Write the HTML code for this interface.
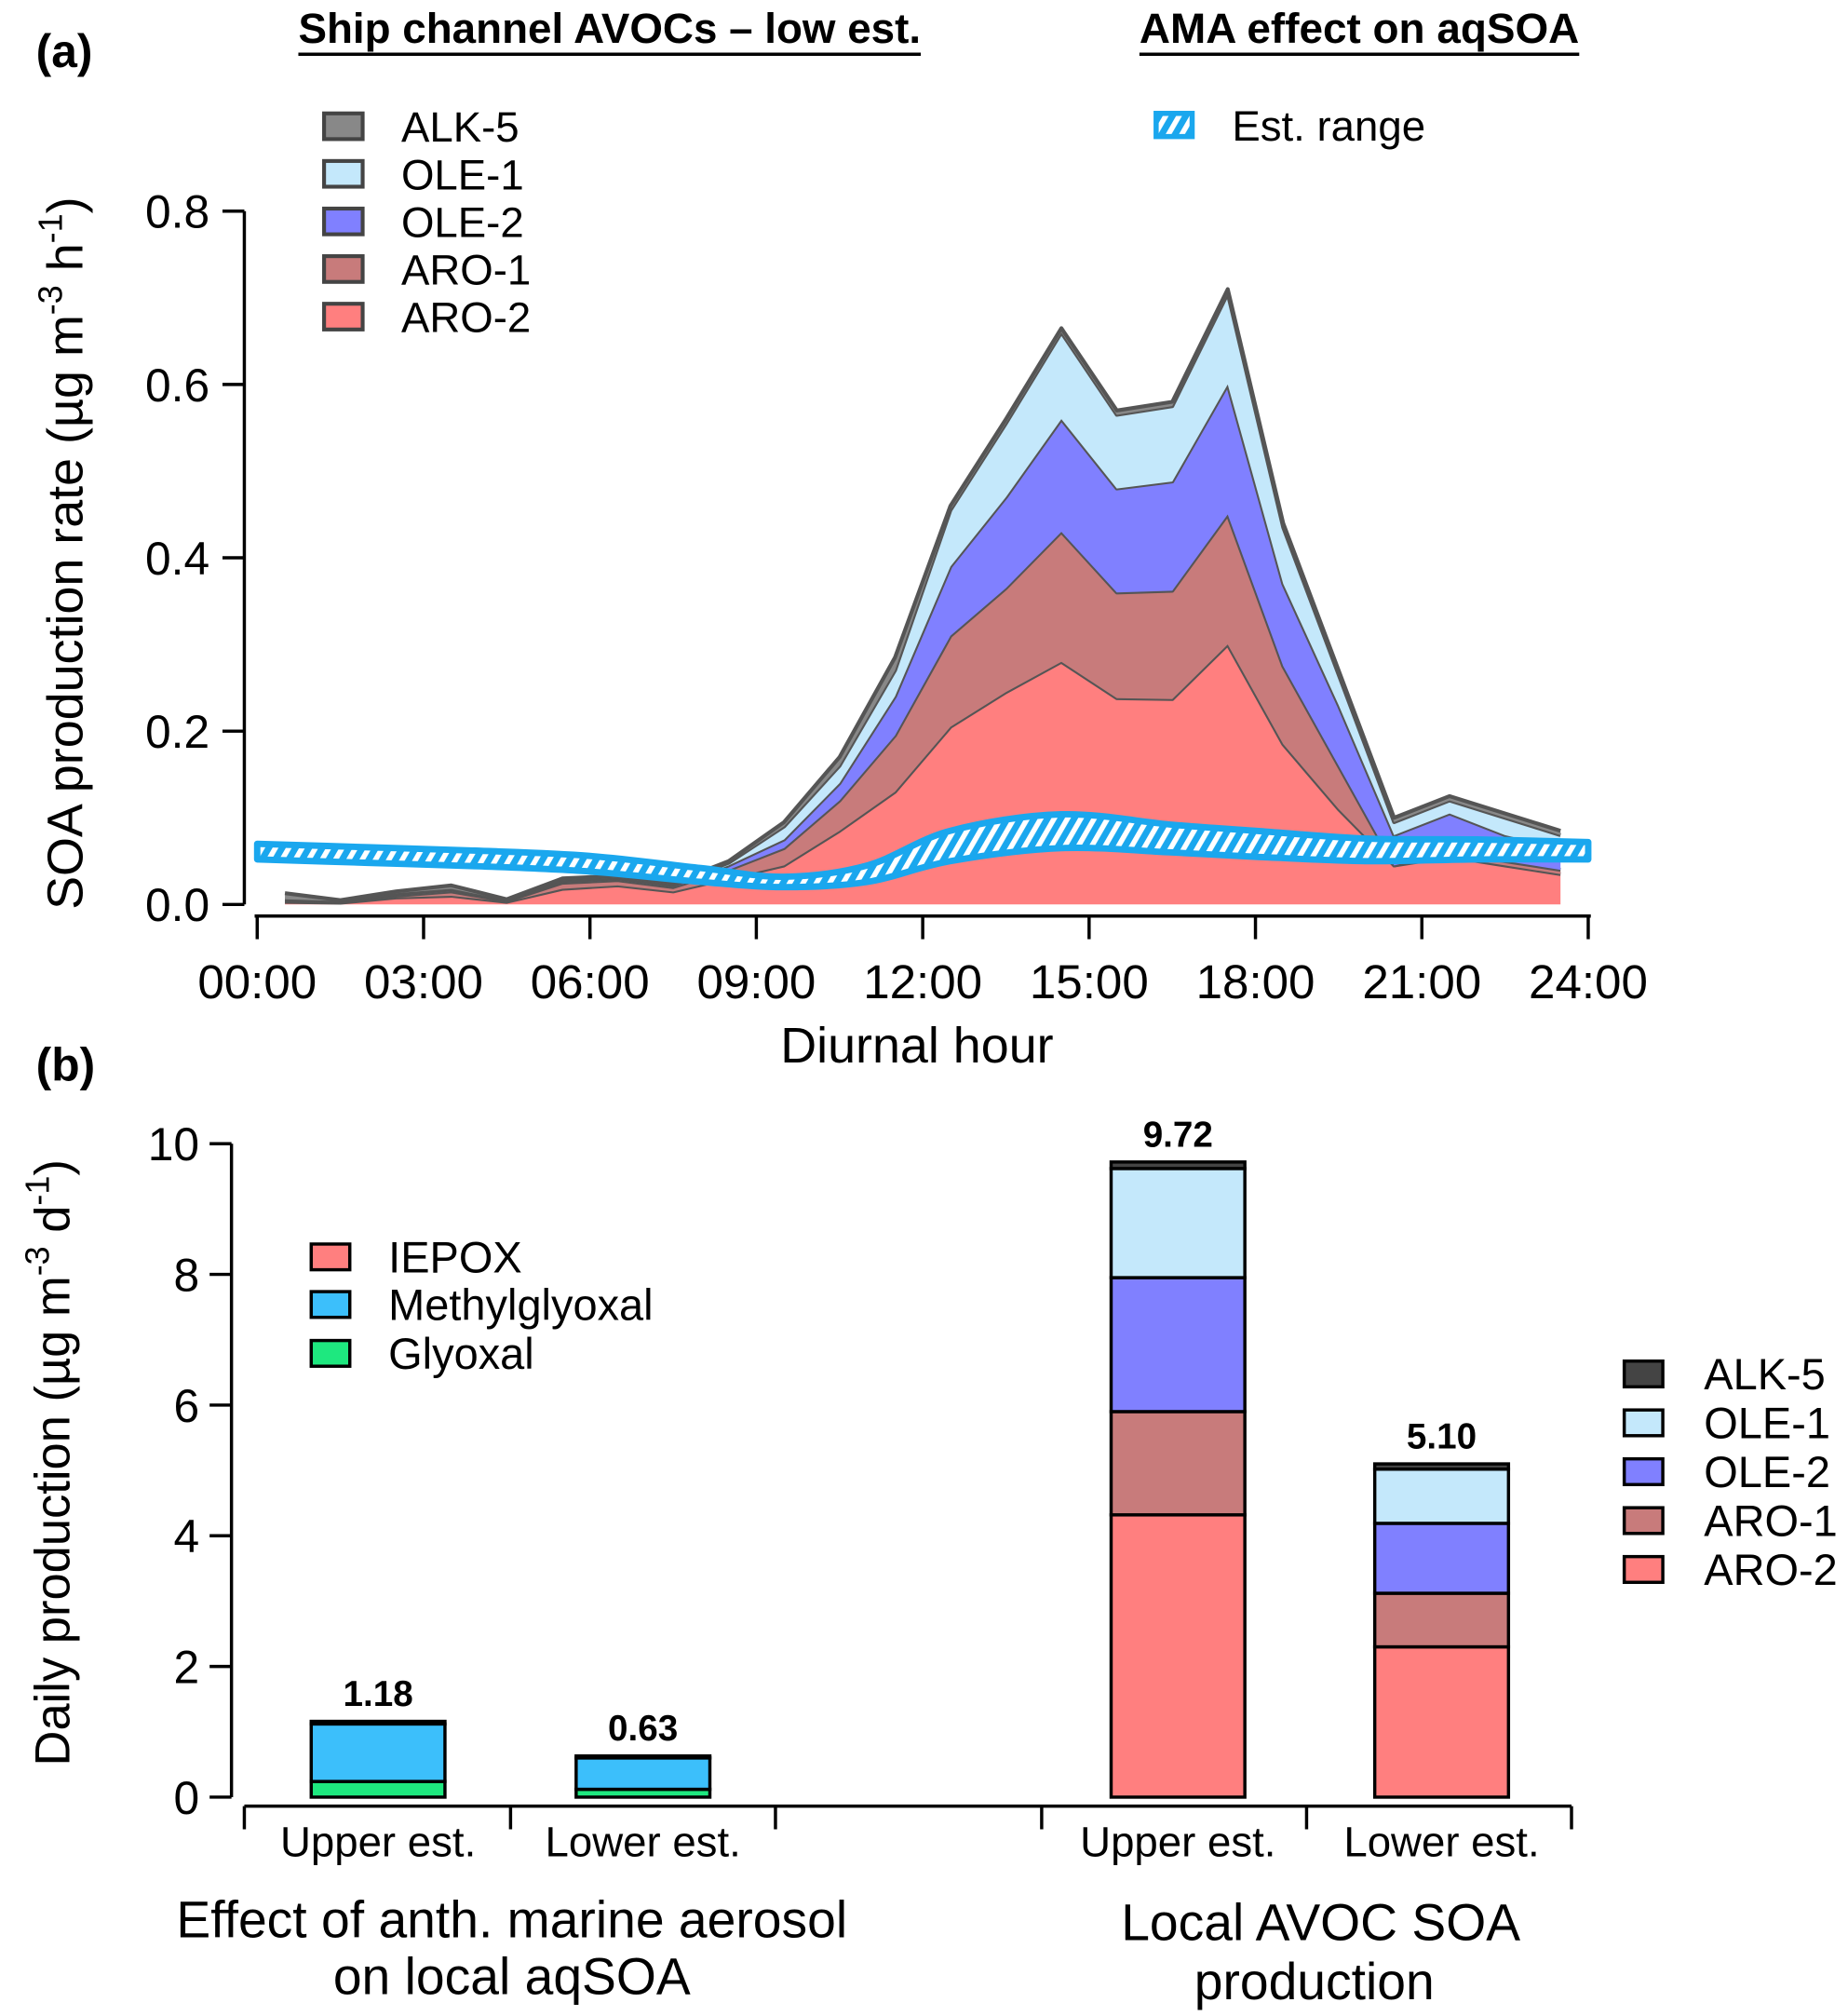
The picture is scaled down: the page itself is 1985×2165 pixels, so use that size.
<!DOCTYPE html>
<html><head><meta charset="utf-8"><style>
html,body{margin:0;padding:0;background:#fff}
svg{display:block}
text{font-family:"Liberation Sans",Arial,sans-serif;fill:#000}
</style></head><body>
<svg id="fig" width="1985" height="2165" viewBox="0 0 1437 1567" xmlns="http://www.w3.org/2000/svg">
<defs>
<pattern id="hatch" patternUnits="userSpaceOnUse" width="9" height="9" patternTransform="rotate(30)">
<rect width="9" height="9" fill="#1aa7ee"/><rect x="0" y="0" width="4" height="9" fill="#fff"/>
</pattern>
</defs>
<g id="pa"></g>
<g id="pb"></g>
</svg>
<script>
// ---------- Panel (a) data ----------
const hours = [0.5,1.5,2.5,3.5,4.5,5.5,6.5,7.5,8.5,9.5,10.5,11.5,12.5,13.5,14.5,15.5,16.5,17.5,18.5,19.5,20.5,21.5,22.5,23.5];
const aro2 = [0.003,0.002,0.008,0.010,0.003,0.018,0.022,0.015,0.030,0.045,0.085,0.130,0.205,0.245,0.280,0.238,0.237,0.300,0.185,0.110,0.045,0.055,0.045,0.035];
const aro1 = [0.001,0.001,0.002,0.005,0.001,0.007,0.006,0.005,0.010,0.020,0.035,0.065,0.105,0.120,0.150,0.122,0.125,0.150,0.090,0.050,0.000,0.005,0.005,0.005];
const ole2 = [0.001,0.001,0.002,0.002,0.001,0.002,0.002,0.002,0.005,0.010,0.020,0.045,0.080,0.105,0.130,0.120,0.126,0.150,0.095,0.070,0.035,0.045,0.030,0.025];
const ole1 = [0.001,0.000,0.001,0.001,0.000,0.001,0.001,0.001,0.003,0.015,0.020,0.030,0.065,0.085,0.100,0.085,0.087,0.105,0.065,0.035,0.015,0.015,0.020,0.015];
const alk5 = [0.007,0.001,0.002,0.004,0.001,0.002,0.002,0.002,0.002,0.005,0.010,0.015,0.005,0.005,0.005,0.005,0.005,0.005,0.005,0.005,0.005,0.005,0.005,0.005];
const bandHours = [0,2,4,6,8,9.5,11,12.5,14.5,16.5,18,20,22,24];
const bandUpper = [0.070,0.066,0.062,0.056,0.042,0.032,0.045,0.085,0.104,0.092,0.085,0.076,0.075,0.072];
const bandLower = [0.052,0.048,0.044,0.038,0.026,0.020,0.026,0.050,0.065,0.060,0.055,0.050,0.052,0.052];
const yTicksA = [0,0.2,0.4,0.6,0.8];
const yTickLabelsA = ["0.0","0.2","0.4","0.6","0.8"];
const xTicksA = [0,3,6,9,12,15,18,21,24];
const xTickLabelsA = ["00:00","03:00","06:00","09:00","12:00","15:00","18:00","21:00","24:00"];
// ---------- Panel (b) data ----------
const barCats = ["Upper est.","Lower est.","Upper est.","Lower est."];
const bGlyoxal = [0.24,0.12,0,0];
const bMethyl = [0.88,0.48,0,0];
const bIepox = [0.04,0.03,0,0];
const bAro2 = [0,0,4.32,2.30];
const bAro1 = [0,0,1.58,0.82];
const bOle2 = [0,0,2.05,1.07];
const bOle1 = [0,0,1.67,0.83];
const bAlk = [0,0,0.10,0.08];
const barTotals = ["1.18","0.63","9.72","5.10"];
const yTicksB = [0,2,4,6,8,10];

const NS="http://www.w3.org/2000/svg";
function mk(parent,tag,attrs,txt){const e=document.createElementNS(NS,tag);for(const k in attrs)e.setAttribute(k,attrs[k]);if(txt!==undefined)e.textContent=txt;parent.appendChild(e);return e;}

const xA=h=>200+h*(1035/24);
const yA=v=>703-v*(539/0.8);
const pa=document.getElementById('pa');

const layers=[[aro2,'#ff7f7f','aro-2'],[aro1,'#c87b7b','aro-1'],[ole2,'#8080ff','ole-2'],[ole1,'#c4e8fb','ole-1'],[alk5,'#888888','alk-5']];
let base=hours.map(()=>0);
layers.forEach(([arr,col,nm])=>{
  const top=base.map((b,i)=>b+arr[i]);
  let d='M'+hours.map((h,i)=>xA(h)+','+yA(top[i])).join('L');
  for(let i=hours.length-1;i>=0;i--)d+='L'+xA(hours[i])+','+yA(base[i]);
  d+='Z';
  const p=mk(pa,'path',{d:d,fill:col,stroke:'none'});
  
  
  const l=mk(pa,'path',{d:'M'+hours.map((h,i)=>xA(h)+','+yA(top[i])).join('L'),fill:'none',stroke:'#555',"stroke-width":3,"stroke-linejoin":"round"});
  
  
  base=top;
});

function smooth(xs,ys){
  const pts=xs.map((x,i)=>[xA(x),yA(ys[i])]);
  let d='M'+pts[0][0]+','+pts[0][1];
  for(let i=0;i<pts.length-1;i++){
    const p0=pts[Math.max(0,i-1)],p1=pts[i],p2=pts[i+1],p3=pts[Math.min(pts.length-1,i+2)];
    const c1=[p1[0]+(p2[0]-p0[0])/6,p1[1]+(p2[1]-p0[1])/6];
    const c2=[p2[0]-(p3[0]-p1[0])/6,p2[1]-(p3[1]-p1[1])/6];
    d+='C'+c1+' '+c2+' '+p2;
  }
  return d;
}
const up=smooth(bandHours,bandUpper);
const lowRev=smooth(bandHours.slice().reverse(),bandLower.slice().reverse());
const band=mk(pa,'path',{d:up+'L'+lowRev.slice(1)+'Z',fill:'url(#hatch)',stroke:'#1aa7ee',"stroke-width":5,"stroke-linejoin":"round"});



mk(pa,'line',{x1:190,y1:703,x2:190,y2:164,stroke:'#000',"stroke-width":2.5});
mk(pa,'line',{x1:198,y1:712,x2:1237,y2:712,stroke:'#000',"stroke-width":2.5});
yTicksA.forEach((v,i)=>{
  mk(pa,'line',{x1:173,y1:yA(v),x2:190,y2:yA(v),stroke:'#000',"stroke-width":2.5});
  const t=mk(pa,'text',{x:163,y:yA(v)+13,"text-anchor":"end","font-size":36},yTickLabelsA[i]);
  
  
});
xTicksA.forEach((h,i)=>{
  mk(pa,'line',{x1:xA(h),y1:712,x2:xA(h),y2:730,stroke:'#000',"stroke-width":2.5});
  const t=mk(pa,'text',{x:xA(h),y:776,"text-anchor":"middle","font-size":37},xTickLabelsA[i]);
  
  
});

const pb=document.getElementById('pb');
const yB=v=>1397-v*50.8;
const centers=[294,500,916,1121];
const bw=104;
mk(pb,'line',{x1:180,y1:1397,x2:180,y2:889,stroke:'#000',"stroke-width":2.5});
mk(pb,'line',{x1:190,y1:1404,x2:1222,y2:1404,stroke:'#000',"stroke-width":2.5});
yTicksB.forEach(v=>{
  mk(pb,'line',{x1:163,y1:yB(v),x2:180,y2:yB(v),stroke:'#000',"stroke-width":2.5});
  const t=mk(pb,'text',{x:155,y:yB(v)+13,"text-anchor":"end","font-size":36},String(v));
  
  
});
[190,397,603,810,1016,1222].forEach(x=>mk(pb,'line',{x1:x,y1:1404,x2:x,y2:1422,stroke:'#000',"stroke-width":2.5}));
const segs=[[bGlyoxal,'#1ee87f','glyoxal'],[bMethyl,'#3cbffb','methylglyoxal'],[bIepox,'#ff7f7f','iepox'],[bAro2,'#ff7f7f','aro-2'],[bAro1,'#c87b7b','aro-1'],[bOle2,'#8080ff','ole-2'],[bOle1,'#c4e8fb','ole-1'],[bAlk,'#444','alk-5']];
centers.forEach((cx,i)=>{
  let b=0;
  segs.forEach(([arr,col,nm])=>{
    const v=arr[i]; if(!v)return;
    const r=mk(pb,'rect',{x:cx-bw/2,y:yB(b+v),width:bw,height:yB(b)-yB(b+v),fill:col,stroke:'#000',"stroke-width":2.5});
    
    
    b+=v;
  });
  const t=mk(pb,'text',{x:cx,y:yB(b)-12,"text-anchor":"middle","font-size":28,"font-weight":"bold"},barTotals[i]);
  
  
  const c=mk(pb,'text',{x:cx,y:1443,"text-anchor":"middle","font-size":33},barCats[i]);
  
  
});
</script>
<svg style="position:absolute;left:0;top:0" width="1985" height="2165" viewBox="0 0 1437 1567" xmlns="http://www.w3.org/2000/svg">
<g font-family="Liberation Sans, Arial, sans-serif">
<text x="28" y="52" font-size="36" font-weight="bold">(a)</text>
<text x="28" y="840" font-size="36" font-weight="bold">(b)</text>
<text x="232" y="33" font-size="33" font-weight="bold" textLength="484" lengthAdjust="spacingAndGlyphs">Ship channel AVOCs – low est.</text>
<line x1="232" y1="42" x2="716" y2="42" stroke="#000" stroke-width="2.5"/>
<text x="886" y="33" font-size="33" font-weight="bold" textLength="342" lengthAdjust="spacingAndGlyphs">AMA effect on aqSOA</text>
<line x1="886" y1="42" x2="1228" y2="42" stroke="#000" stroke-width="2.5"/>
<g font-size="33">
<rect x="252" y="88" width="30" height="20" fill="#888" stroke="#444" stroke-width="3"/><text x="312" y="110">ALK-5</text>
<rect x="252" y="125" width="30" height="20" fill="#c4e8fb" stroke="#444" stroke-width="3"/><text x="312" y="147">OLE-1</text>
<rect x="252" y="162" width="30" height="20" fill="#8080ff" stroke="#444" stroke-width="3"/><text x="312" y="184">OLE-2</text>
<rect x="252" y="199" width="30" height="20" fill="#c87b7b" stroke="#444" stroke-width="3"/><text x="312" y="221">ARO-1</text>
<rect x="252" y="236" width="30" height="20" fill="#ff7f7f" stroke="#444" stroke-width="3"/><text x="312" y="258">ARO-2</text>
<rect x="899" y="88" width="28" height="18" fill="url(#hatch)" stroke="#1aa7ee" stroke-width="4"/><text x="958" y="109">Est. range</text>
</g>
<text transform="translate(64,430) rotate(-90)" text-anchor="middle" font-size="39">SOA production rate (µg m<tspan dy="-16" font-size="26">-3</tspan><tspan dy="16"> h</tspan><tspan dy="-16" font-size="26">-1</tspan><tspan dy="16">)</tspan></text>
<text x="713" y="826" text-anchor="middle" font-size="39">Diurnal hour</text>
<text transform="translate(54,1137) rotate(-90)" text-anchor="middle" font-size="38">Daily production (µg m<tspan dy="-16" font-size="26">-3</tspan><tspan dy="16"> d</tspan><tspan dy="-16" font-size="26">-1</tspan><tspan dy="16">)</tspan></text>
<g font-size="34">
<rect x="242" y="967" width="30" height="20" fill="#ff7f7f" stroke="#000" stroke-width="2.5"/><text x="302" y="989">IEPOX</text>
<rect x="242" y="1004" width="30" height="20" fill="#3cbffb" stroke="#000" stroke-width="2.5"/><text x="302" y="1026">Methylglyoxal</text>
<rect x="242" y="1042" width="30" height="20" fill="#1ee87f" stroke="#000" stroke-width="2.5"/><text x="302" y="1064">Glyoxal</text>
</g>
<g font-size="34">
<rect x="1263" y="1058" width="30" height="20" fill="#444" stroke="#000" stroke-width="2.5"/><text x="1325" y="1080">ALK-5</text>
<rect x="1263" y="1096" width="30" height="20" fill="#c4e8fb" stroke="#000" stroke-width="2.5"/><text x="1325" y="1118">OLE-1</text>
<rect x="1263" y="1134" width="30" height="20" fill="#8080ff" stroke="#000" stroke-width="2.5"/><text x="1325" y="1156">OLE-2</text>
<rect x="1263" y="1172" width="30" height="20" fill="#c87b7b" stroke="#000" stroke-width="2.5"/><text x="1325" y="1194">ARO-1</text>
<rect x="1263" y="1210" width="30" height="20" fill="#ff7f7f" stroke="#000" stroke-width="2.5"/><text x="1325" y="1232">ARO-2</text>
</g>
<text x="398" y="1506" text-anchor="middle" font-size="40">Effect of anth. marine aerosol</text>
<text x="398" y="1550" text-anchor="middle" font-size="40">on local aqSOA</text>
<text x="1027" y="1508" text-anchor="middle" font-size="40">Local AVOC SOA</text>
<text x="1022" y="1554" text-anchor="middle" font-size="40">production</text>
</g>
</svg>
</body></html>
